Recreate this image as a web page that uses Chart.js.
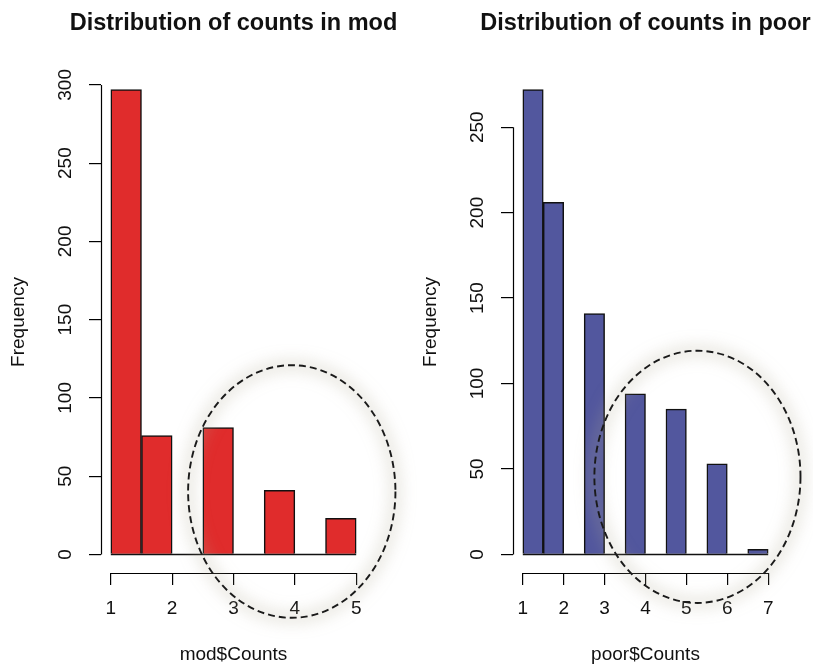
<!DOCTYPE html>
<html>
<head>
<meta charset="utf-8">
<script src="https://cdn.jsdelivr.net/npm/chart.js@4/dist/chart.umd.min.js"></script>
<style>
  html, body { margin: 0; padding: 0; background: #ffffff; overflow: hidden; width: 813px; height: 666px; }
  .panel { position: absolute; top: 0; width: 467px; height: 666px; }
  #pL { left: 0; }
  #pR { left: 412px; }
</style>
</head>
<body>
<div class="panel" id="pR"><canvas id="cR" width="467" height="666"></canvas></div>
<div class="panel" id="pL"><canvas id="cL" width="467" height="666"></canvas></div>
<script>
// ---------- data ----------
const modBreaks = [1, 1.5, 2, 2.5, 3, 3.5, 4, 4.5, 5];
const modCounts = [297, 76, 0, 81, 0, 41, 0, 23];
const modXTicks = [1, 2, 3, 4, 5];
const modYTicks = [0, 50, 100, 150, 200, 250, 300];

const poorBreaks = [1, 1.5, 2, 2.5, 3, 3.5, 4, 4.5, 5, 5.5, 6, 6.5, 7];
const poorCounts = [272, 206, 0, 141, 0, 94, 0, 85, 0, 53, 0, 3];
const poorXTicks = [1, 2, 3, 4, 5, 6, 7];
const poorYTicks = [0, 50, 100, 150, 200, 250];

// highlighted region (data units): centre x, centre y, radius x, radius y
const modHighlight = [3.95, 40.2, 1.69, 80.7];
const poorHighlight = [5.27, 45.4, 2.52, 73.8];

const FONT = "'Liberation Sans', Arial, Helvetica, sans-serif";

// ---------- R-style axes, baseline and highlight ellipse ----------
const rStyle = {
  id: 'rStyle',
  afterDraw(chart, args, opts) {
    const ctx = chart.ctx;
    const xs = chart.scales.x, ys = chart.scales.y;
    ctx.save();
    ctx.strokeStyle = '#000';
    ctx.lineWidth = 1.2;
    // y axis line from first to last tick
    const ax = Math.round(ys.right) + 0.5;
    ctx.beginPath();
    ctx.moveTo(ax, ys.getPixelForValue(opts.yTicks[0]));
    ctx.lineTo(ax, ys.getPixelForValue(opts.yTicks[opts.yTicks.length - 1]));
    ctx.stroke();
    // x axis line
    const ay = Math.round(xs.top) + 0.5;
    ctx.beginPath();
    ctx.moveTo(xs.getPixelForValue(opts.xTicks[0]), ay);
    ctx.lineTo(xs.getPixelForValue(opts.xTicks[opts.xTicks.length - 1]), ay);
    ctx.stroke();
    // baseline of histogram (zero-height bins)
    const by = Math.round(ys.getPixelForValue(0)) + 0.5;
    ctx.strokeStyle = '#111';
    ctx.lineWidth = 1.5;
    ctx.beginPath();
    ctx.moveTo(xs.getPixelForValue(opts.breaks[0]), by);
    ctx.lineTo(xs.getPixelForValue(opts.breaks[opts.breaks.length - 1]), by);
    ctx.stroke();
    ctx.restore();

    // highlight ellipse
    const e = opts.ellipse;
    const cx = xs.getPixelForValue(e[0]);
    const cy = ys.getPixelForValue(e[1]);
    const rx = Math.abs(xs.getPixelForValue(e[0] + e[2]) - cx);
    const ry = Math.abs(ys.getPixelForValue(e[1] + e[3]) - cy);
    // soft glow
    ctx.save();
    const off = 3000;
    ctx.shadowColor = 'rgba(175,170,145,0.55)';
    ctx.shadowBlur = 16;
    ctx.shadowOffsetX = off;
    ctx.strokeStyle = '#000';
    ctx.lineWidth = 6;
    ctx.beginPath();
    ctx.ellipse(cx - off, cy, rx, ry, 0, 0, Math.PI * 2);
    ctx.stroke();
    ctx.restore();
    // dashed outline
    ctx.save();
    ctx.strokeStyle = '#1a1a1a';
    ctx.lineWidth = 1.9;
    ctx.setLineDash([7, 4]);
    ctx.beginPath();
    ctx.ellipse(cx, cy, rx, ry, 0, 0, Math.PI * 2);
    ctx.stroke();
    ctx.restore();
  }
};

function makeHist(id, title, xLabel, breaks, counts, xTicks, yTicks, color, ellipse) {
  const centers = counts.map((c, i) => (breaks[i] + breaks[i + 1]) / 2);
  const yMax = Math.max(...counts);
  const xMin = breaks[0], xMax = breaks[breaks.length - 1];
  const xr = xMax - xMin;
  const tickFont = { family: FONT, size: 19 };
  return new Chart(document.getElementById(id), {
    type: 'bar',
    data: {
      datasets: [{
        data: centers.map((c, i) => ({ x: c, y: counts[i] })),
        backgroundColor: color,
        borderColor: '#111',
        borderWidth: 1.5,
        borderSkipped: 'start',
        categoryPercentage: 1,
        barPercentage: 1
      }]
    },
    options: {
      responsive: false,
      animation: false,
      devicePixelRatio: 1,
      events: [],
      layout: { padding: 0 },
      plugins: {
        legend: { display: false },
        tooltip: { enabled: false },
        title: {
          display: true, text: title, color: '#111',
          font: { family: FONT, size: 23.5, weight: 'bold' },
          padding: { top: 9, bottom: 33.8 }
        },
        rStyle: { xTicks, yTicks, breaks, ellipse }
      },
      scales: {
        x: {
          type: 'linear',
          min: xMin - 0.04 * xr, max: xMax + 0.04 * xr,
          offset: false,
          afterBuildTicks: s => { s.ticks = xTicks.map(v => ({ value: v })); },
          afterFit: s => { s.height = 93; },
          grid: { display: true, drawOnChartArea: false, drawTicks: true, tickLength: 12, color: '#000', lineWidth: 1.2, offset: false },
          border: { display: false },
          ticks: { color: '#111', font: tickFont, padding: 12.6, autoSkip: false, minRotation: 0, maxRotation: 0 },
          title: { display: true, text: xLabel, color: '#111', font: tickFont, padding: { top: 0, bottom: 0 } }
        },
        y: {
          type: 'linear', position: 'left',
          min: -0.04 * yMax, max: 1.04 * yMax,
          afterBuildTicks: s => { s.ticks = yTicks.map(v => ({ value: v })); },
          afterFit: s => { s.width = 101; },
          grid: { display: true, drawOnChartArea: false, drawTicks: true, tickLength: 12, color: '#000', lineWidth: 1.2 },
          border: { display: false },
          ticks: { color: '#111', font: tickFont, padding: 7, minRotation: 90, maxRotation: 90, crossAlign: 'center', autoSkip: false },
          title: { display: true, text: 'Frequency', color: '#111', font: tickFont, padding: { top: 7.5, bottom: 0 } }
        },
        yPad: {
          type: 'linear', position: 'right', display: true,
          afterFit: s => { s.width = 101; },
          grid: { display: false }, ticks: { display: false }, border: { display: false }
        }
      }
    },
    plugins: [rStyle]
  });
}

makeHist('cL', 'Distribution of counts in mod', 'mod$Counts', modBreaks, modCounts, modXTicks, modYTicks, '#E02C2C', modHighlight);
makeHist('cR', 'Distribution of counts in poor', 'poor$Counts', poorBreaks, poorCounts, poorXTicks, poorYTicks, '#52579E', poorHighlight);
</script>
</body>
</html>
